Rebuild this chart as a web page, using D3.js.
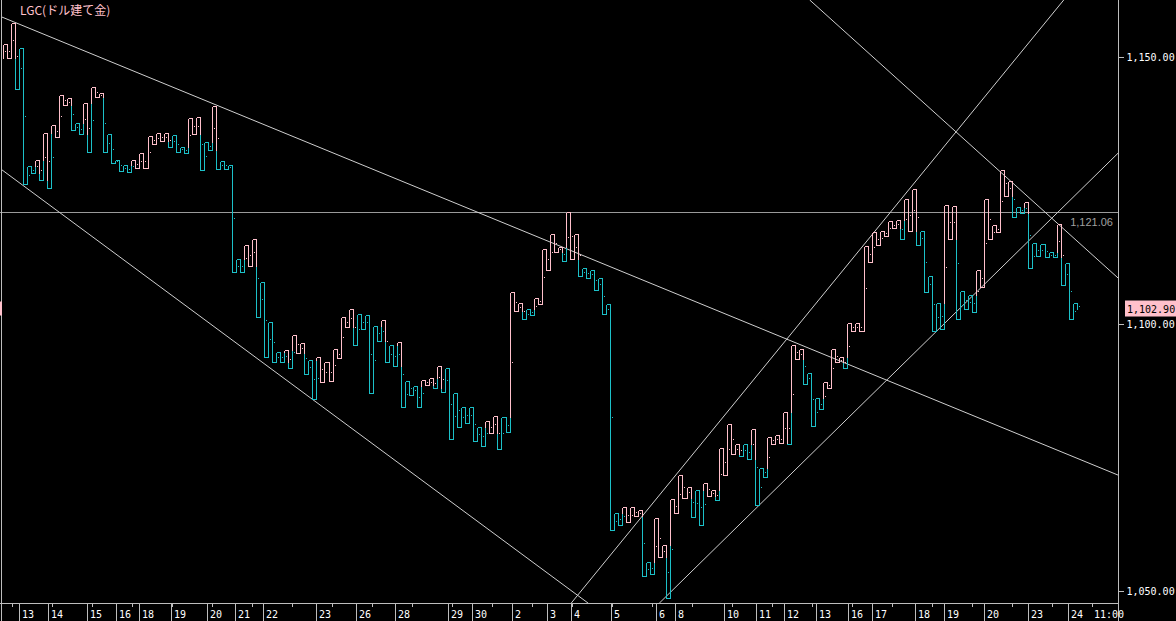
<!DOCTYPE html>
<html>
<head>
<meta charset="utf-8">
<script src="https://cdn.jsdelivr.net/npm/d3@7"></script>
<style>
html, body { margin: 0; padding: 0; background: #000; }
svg { display: block; }
</style>
</head>
<body>
<svg id="chart" width="1176" height="621"></svg>
<script>
// kagi turning levels, one per reversal
var levels = [
    1149.8, 1152.4, 1149.8, 1156.4, 1144.1, 1151.7, 1126.2, 1129.5, 1128.2, 1130.8,
    1127.0, 1135.7, 1125.4, 1137.3, 1135.1, 1142.9, 1141.0, 1142.3, 1136.3, 1137.6,
    1135.5, 1141.3, 1132.2, 1144.3, 1142.6, 1143.2, 1132.2, 1135.5, 1130.1, 1130.8,
    1128.7, 1129.8, 1128.4, 1130.8, 1129.2, 1132.0, 1129.2, 1135.2, 1133.7, 1135.8,
    1134.3, 1135.8, 1133.2, 1135.4, 1132.2, 1133.2, 1132.1, 1138.6, 1135.5, 1138.8,
    1128.8, 1134.1, 1132.5, 1140.8, 1129.0, 1130.6, 1129.0, 1129.8, 1109.8, 1112.1,
    1109.8, 1114.8, 1110.9, 1116.0, 1101.4, 1107.8, 1093.8, 1100.4, 1092.8, 1094.8,
    1092.8, 1095.1, 1091.7, 1097.9, 1094.5, 1096.5, 1090.6, 1093.3, 1086.0, 1093.9,
    1089.2, 1092.8, 1089.4, 1095.3, 1093.6, 1101.4, 1099.4, 1102.8, 1096.1, 1101.9,
    1099.0, 1101.7, 1087.0, 1099.7, 1096.8, 1100.7, 1092.9, 1096.0, 1092.1, 1096.7,
    1084.5, 1089.4, 1086.7, 1088.4, 1084.4, 1089.6, 1088.6, 1089.8, 1088.1, 1092.1,
    1087.2, 1091.7, 1078.4, 1087.1, 1080.7, 1084.4, 1081.4, 1084.4, 1078.0, 1080.8,
    1077.2, 1081.9, 1079.6, 1082.8, 1076.5, 1082.5, 1079.7, 1106.0, 1102.4, 1104.0,
    1100.9, 1102.8, 1101.7, 1104.9, 1103.7, 1114.0, 1110.2, 1116.8, 1113.5, 1114.5,
    1111.8, 1120.9, 1112.1, 1116.8, 1109.0, 1110.4, 1108.6, 1110.1, 1106.4, 1108.7,
    1101.8, 1103.7, 1061.4, 1064.7, 1062.4, 1065.7, 1062.9, 1065.7, 1064.0, 1065.2,
    1052.8, 1055.4, 1053.2, 1063.6, 1056.4, 1058.6, 1048.7, 1067.2, 1064.7, 1071.7,
    1067.4, 1069.5, 1063.8, 1069.0, 1062.4, 1070.3, 1067.8, 1069.0, 1067.0, 1076.7,
    1071.7, 1081.3, 1075.7, 1077.5, 1075.2, 1077.5, 1074.7, 1080.3, 1066.1, 1073.0,
    1071.4, 1078.9, 1077.5, 1079.3, 1077.7, 1083.5, 1077.5, 1096.1, 1093.4, 1095.3,
    1088.8, 1090.9, 1080.9, 1086.1, 1084.1, 1089.1, 1088.1, 1095.3, 1092.8, 1093.9,
    1091.7, 1100.1, 1098.7, 1100.2, 1098.7, 1114.6, 1111.6, 1117.2, 1114.8, 1117.4,
    1116.5, 1119.3, 1117.9, 1119.5, 1115.9, 1123.4, 1117.5, 1125.2, 1114.8, 1117.4,
    1105.9, 1108.9, 1098.7, 1103.9, 1099.0, 1122.3, 1116.0, 1122.1, 1100.9, 1106.2,
    1102.9, 1105.4, 1102.3, 1110.2, 1107.0, 1123.5, 1116.0, 1118.5, 1117.2, 1128.8,
    1124.0, 1126.8, 1120.0, 1121.9, 1120.8, 1122.8, 1110.4, 1115.1, 1112.7, 1114.9,
    1112.5, 1113.5, 1112.5, 1118.7, 1107.3, 1111.4, 1100.9, 1103.9, 1102.9
];

// date dividers on the bottom axis, positioned in column units
var dateLabels = ["13", "14", "15", "16", "18", "19", "20", "21", "22", "23", "26", "28", "29", "30",
    "2", "3", "4", "5", "6", "8", "10", "11", "12", "13", "16", "17", "18", "19", "20", "23", "24"];
var dateCols = [4.1, 11.2, 21.0, 28.1, 34.0, 41.9, 50.9, 57.8, 64.8, 77.8, 87.8, 97.6, 110.6, 116.6,
    126.6, 135.4, 141.4, 151.3, 162.3, 167.1, 179.3, 187.2, 194.2, 202.1, 210.2, 216.0, 226.9, 233.9,
    243.9, 254.8, 264.8];
var timeLabel = "11:00", timeCol = 271.3;

// trend lines, [column, price] end points
var trendLines = [
    [[-0.25, 1157.5], [277.3, 1071.7]],
    [[-0.25, 1128.9], [145.6, 1047.7]],
    [[141.3, 1047.7], [263.8, 1160.7]],
    [[163.2, 1047.7], [277.3, 1132.0]],
    [[200.6, 1160.7], [277.3, 1108.6]]
];
var priceTicks = [1050, 1100, 1150];
var refPrice = 1121.06;
var lastPrice = 1102.90;
var title = "LGC(ドル建て金)";

var YANG = "#ffc0cb", YIN = "#1cc0c8";
var plotRight = 1118, plotBottom = 603;

var svg = d3.select("#chart");
svg.append("rect").attr("width", 1176).attr("height", 621).attr("fill", "#000");

var x = d3.scaleLinear().domain([0, levels.length - 2]).range([2.7, 1076.7]);
var y = d3.scaleLinear().domain([1050, 1150]).range([591, 57]);

function px(v) { return Math.round(v) + 0.5; }

svg.append("clipPath").attr("id", "plot")
    .append("rect").attr("x", 0).attr("y", 0).attr("width", plotRight).attr("height", plotBottom);

var plot = svg.append("g").attr("clip-path", "url(#plot)");

// reference horizontal line
plot.append("line")
    .attr("x1", 0).attr("x2", plotRight)
    .attr("y1", px(y(refPrice))).attr("y2", px(y(refPrice)))
    .attr("stroke", "#9a9a9a").attr("stroke-width", 1)
    .attr("shape-rendering", "crispEdges");

// trend lines
plot.selectAll(".trend")
    .data(trendLines)
    .enter().append("line")
    .attr("class", "trend")
    .attr("x1", function (d) { return x(d[0][0]); })
    .attr("y1", function (d) { return y(d[0][1]); })
    .attr("x2", function (d) { return x(d[1][0]); })
    .attr("y2", function (d) { return y(d[1][1]); })
    .attr("stroke", "#cfcfcf")
    .attr("stroke-width", 1);

// kagi segments, colour switches at the previous shoulder / waist
var segs = [], marks = [];
var state = "yin", lastHigh = levels[0], lastLow = levels[0];
for (var i = 0; i < levels.length - 1; i++) {
    var a = levels[i], b = levels[i + 1], xi = x(i), split = null, before = state;
    if (b > a) {
        if (state == "yin" && b > lastHigh) { split = lastHigh; state = "yang"; }
        lastHigh = b;
    } else {
        if (state == "yang" && b < lastLow) { split = lastLow; state = "yin"; }
        lastLow = b;
    }
    var cBefore = before == "yang" ? YANG : YIN, cNow = state == "yang" ? YANG : YIN;
    if (split !== null) {
        segs.push({ x1: xi, x2: xi, p1: a, p2: split, c: cBefore });
        segs.push({ x1: xi, x2: xi, p1: split, p2: b, c: cNow });
    } else {
        segs.push({ x1: xi, x2: xi, p1: a, p2: b, c: cNow });
    }
    var m = (a + b) / 2, mc = cNow;
    if (split !== null && ((b > a && m < split) || (b < a && m > split))) mc = cBefore;
    marks.push({ x: xi, p: m, c: mc });
    if (i < levels.length - 2) {
        segs.push({ x1: xi, x2: x(i + 1), p1: b, p2: b, c: cNow });
    }
}

plot.selectAll(".kagi")
    .data(segs)
    .enter().append("line")
    .attr("class", "kagi")
    .attr("x1", function (d) { return px(d.x1); })
    .attr("x2", function (d) { return px(d.x2); })
    .attr("y1", function (d) { return px(y(d.p1)); })
    .attr("y2", function (d) { return px(y(d.p2)); })
    .attr("stroke", function (d) { return d.c; })
    .attr("stroke-width", 1)
    .attr("shape-rendering", "crispEdges");

plot.selectAll(".mark")
    .data(marks)
    .enter().append("line")
    .attr("class", "mark")
    .attr("x1", function (d) { return px(d.x) + 1; })
    .attr("x2", function (d) { return px(d.x) + 2.5; })
    .attr("y1", function (d) { return px(y(d.p)); })
    .attr("y2", function (d) { return px(y(d.p)); })
    .attr("stroke", function (d) { return d.c; })
    .attr("stroke-width", 1)
    .attr("shape-rendering", "crispEdges");

// ref price label
svg.append("text")
    .attr("x", 1113).attr("y", y(refPrice) + 14)
    .attr("text-anchor", "end")
    .attr("fill", "#a0a0a0")
    .style("font-family", "'Liberation Sans', Arial, sans-serif")
    .style("font-size", "11px")
    .text(d3.format(",.2f")(refPrice));

// title
svg.append("text")
    .attr("x", 20).attr("y", 15)
    .attr("fill", YANG)
    .style("font-family", "'Noto Sans CJK JP', sans-serif")
    .style("font-size", "12px")
    .text(title);

// frame
var axisColor = "#bdbdbd";
svg.append("line").attr("x1", 1.5).attr("x2", 1.5).attr("y1", 0).attr("y2", 621)
    .attr("stroke", axisColor).attr("shape-rendering", "crispEdges");
svg.append("line").attr("x1", px(plotRight)).attr("x2", px(plotRight)).attr("y1", 0).attr("y2", 621)
    .attr("stroke", axisColor).attr("shape-rendering", "crispEdges");
svg.append("line").attr("x1", 0).attr("x2", plotRight).attr("y1", px(plotBottom)).attr("y2", px(plotBottom))
    .attr("stroke", axisColor).attr("shape-rendering", "crispEdges");

// right price axis
var yAxis = svg.append("g")
    .attr("transform", "translate(" + px(plotRight) + ",0)")
    .call(d3.axisRight(y).tickValues(priceTicks).tickSize(5).tickPadding(3)
        .tickFormat(d3.format(",.2f")));
yAxis.select(".domain").remove();
yAxis.selectAll("line").attr("stroke", axisColor).attr("shape-rendering", "crispEdges");
yAxis.selectAll("text")
    .attr("fill", "#fff")
    .style("font-family", "'DejaVu Sans Mono', monospace")
    .style("font-size", "10px");

// last price tag
svg.append("rect")
    .attr("x", 1125).attr("y", y(lastPrice) - 8)
    .attr("width", 51).attr("height", 16)
    .attr("fill", YANG);
svg.append("text")
    .attr("x", 1127).attr("y", y(lastPrice) + 4)
    .attr("fill", "#000")
    .style("font-family", "'DejaVu Sans Mono', monospace")
    .style("font-size", "10px")
    .text(d3.format(",.2f")(lastPrice));
svg.append("rect")
    .attr("x", 0).attr("y", y(lastPrice) - 7)
    .attr("width", 2).attr("height", 14)
    .attr("fill", YANG);

// bottom date axis
var minor = d3.range(11.5, plotRight - 20, 40);
svg.selectAll(".minor")
    .data(minor)
    .enter().append("line")
    .attr("class", "minor")
    .attr("x1", function (d) { return px(d); })
    .attr("x2", function (d) { return px(d); })
    .attr("y1", plotBottom).attr("y2", plotBottom + 4)
    .attr("stroke", axisColor).attr("shape-rendering", "crispEdges");

var dates = svg.selectAll(".date")
    .data(dateLabels)
    .enter().append("g")
    .attr("class", "date")
    .attr("transform", function (d, i) { return "translate(" + px(x(dateCols[i])) + ",0)"; });
dates.append("line")
    .attr("y1", plotBottom).attr("y2", 621)
    .attr("stroke", axisColor).attr("shape-rendering", "crispEdges");
dates.append("text")
    .attr("x", 2.5).attr("y", 618)
    .attr("fill", "#fff")
    .style("font-family", "'DejaVu Sans Mono', monospace")
    .style("font-size", "10px")
    .text(function (d) { return d; });

svg.append("text")
    .attr("x", x(timeCol)).attr("y", 618)
    .attr("fill", "#fff")
    .style("font-family", "'DejaVu Sans Mono', monospace")
    .style("font-size", "10px")
    .text(timeLabel);
</script>
</body>
</html>
